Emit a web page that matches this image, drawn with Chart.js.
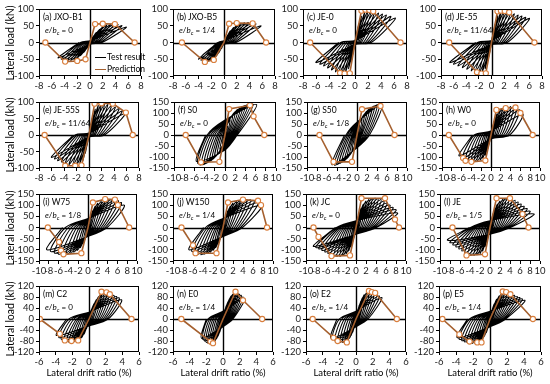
<!DOCTYPE html>
<html><head><meta charset="utf-8">
<script src="https://cdn.jsdelivr.net/npm/chart.js@4.4.1/dist/chart.umd.min.js"></script>
<style>
body{margin:0;background:#fff;width:550px;height:384px;overflow:hidden;position:relative;font-family:Lato,"Noto Sans",sans-serif;}
canvas{position:absolute;}
.t{position:absolute;white-space:nowrap;line-height:1;color:#000;font-size:8.5px;}
.e{position:absolute;white-space:nowrap;line-height:1;color:#000;font-size:8px;}
.ytitle{position:absolute;white-space:nowrap;font-size:10.5px;transform:translate(-50%,-50%) rotate(-90deg);color:#000;}
.xtitle{position:absolute;white-space:nowrap;font-size:9.5px;transform:translateX(-50%);color:#000;}
sub{font-size:6px;vertical-align:-2px;line-height:0;}
.leg{position:absolute;height:0;border-top:1.5px solid #000;width:11px;}
</style></head><body>
<script>
// ---------- labels ----------
const panelNames = ['(a) JXO-B1','(b) JXO-B5','(c) JE-0','(d) JE-55','(e) JE-55S','(f) S0','(g) S50','(h) W0','(i) W75','(j) W150','(k) JC','(l) JE','(m) C2','(n) E0','(o) E2','(p) E5'];
const eccentricity = ['0','1/4','0','11/64','11/64','0','1/8','0','1/8','1/4','0','1/5','0','1/4','1/4','1/4'];
// ---------- tick labels ----------
const xTicks8 = [-8,-6,-4,-2,0,2,4,6,8];
const xTicks10 = [-10,-8,-6,-4,-2,0,2,4,6,8,10];
const xTicks6 = [-6,-4,-2,0,2,4,6];
const yTicks100 = [-100,-50,0,50,100];
const yTicks150 = [-150,-100,-50,0,50,100,150];
const yTicks120 = [-120,-80,-40,0,40,80,120];
// ---------- test result: cycle peaks (drift %, load kN) ----------
const posDrift = [
 [0.5,1.0,1.5,2.0,2.6,3.2,3.8,4.4,5.0,5.7],
 [0.5,1.0,1.5,2.0,2.6,3.2,3.8,4.4,5.0,5.8],
 [0.3,0.6,1.0,1.5,2.0,2.5,3.0,3.6,4.2,4.8,5.5,6.2],
 [0.3,0.6,1.0,1.5,2.0,2.5,3.0,3.6,4.2,4.8,5.4,6.0],
 [0.3,0.6,1.0,1.5,2.0,2.5,3.0,3.6,4.2,4.8,5.3,5.8],
 [0.5,1.0,1.5,2.0,2.5,3.0,3.5,4.0,4.5,5.0,5.5,6.2],
 [0.5,1.0,1.5,2.0,2.5,3.0,3.5,4.0,4.5,5.0],
 [0.4,0.8,1.2,1.7,2.2,2.8,3.4,4.0,4.6,5.2,5.8,6.5],
 [0.5,1.0,1.5,2.0,2.7,3.4,4.1,4.8,5.5,6.2,6.8,7.4],
 [0.5,1.0,1.5,2.0,2.7,3.4,4.1,4.8,5.5,6.2,7.0,7.8],
 [0.5,1.0,1.5,2.0,2.6,3.2,3.8,4.4,5.0,5.6,6.2,6.8,7.4,8.0,8.3],
 [0.5,1.0,1.5,2.0,2.6,3.2,3.8,4.4,5.0,5.6,6.2,6.8,7.4,8.0,8.8],
 [0.3,0.6,0.9,1.2,1.5,1.8,2.1,2.4,2.7,3.0,3.3,3.6,3.9],
 [0.2,0.4,0.6,0.8,1.0,1.2,1.4,1.6,1.8,2.0,2.2,2.4,2.6],
 [0.2,0.4,0.6,0.8,1.0,1.3,1.6,1.9,2.2,2.5,2.8,3.1],
 [0.2,0.5,0.8,1.1,1.4,1.7,2.0,2.3,2.6,2.9,3.2,3.5,3.8,4.1]
];
const posLoad = [
 [18,30,40,47,52,54,55,54,51,46],
 [20,35,45,52,57,59,60,58,56,50],
 [30,55,78,90,95,95,92,88,85,82,78,73],
 [30,55,80,92,95,93,90,86,82,79,75,72],
 [30,55,78,90,95,95,93,90,85,80,73,66],
 [40,70,90,105,115,122,128,133,137,140,140,138],
 [45,75,95,108,118,125,131,136,140,138],
 [40,70,95,110,118,124,128,130,128,124,115,95],
 [45,75,95,108,116,120,123,125,124,120,112,100],
 [45,75,95,108,116,120,123,125,124,120,112,100],
 [50,85,105,118,125,130,132,130,125,118,110,100,90,80,65],
 [50,85,105,118,126,131,132,128,122,114,105,95,85,73,60],
 [35,55,70,82,90,94,95,93,90,86,82,77,70],
 [30,48,62,74,84,90,94,95,93,90,86,80,75],
 [30,50,65,78,88,96,100,98,94,90,84,78],
 [30,55,72,84,92,96,96,94,90,86,82,78,73,68]
];
const resPos = [
 [0.1,0.2,0.3,0.5,0.7,0.9,1.1,1.3,1.6,1.9],
 [0.1,0.2,0.3,0.5,0.7,0.9,1.1,1.3,1.6,1.9],
 [0.05,0.1,0.2,0.4,0.6,0.8,1.0,1.3,1.6,1.9,2.2,2.5],
 [0.05,0.1,0.2,0.4,0.6,0.8,1.0,1.3,1.6,1.9,2.2,2.5],
 [0.05,0.1,0.2,0.4,0.6,0.8,1.0,1.3,1.6,1.9,2.2,2.5],
 [0.2,0.4,0.6,0.8,1.0,1.2,1.4,1.6,1.8,2.0,2.2,2.4],
 [0.2,0.4,0.6,0.8,1.0,1.3,1.6,1.9,2.2,2.5],
 [0.1,0.3,0.5,0.8,1.1,1.4,1.8,2.2,2.6,3.0,3.4,3.8],
 [0.2,0.4,0.6,0.9,1.2,1.5,1.9,2.3,2.7,3.1,3.5,3.9],
 [0.2,0.4,0.6,0.9,1.2,1.5,1.9,2.3,2.7,3.1,3.5,3.9],
 [0.2,0.4,0.6,0.9,1.2,1.5,1.8,2.1,2.4,2.7,3.0,3.3,3.6,3.9,4.1],
 [0.2,0.4,0.6,0.9,1.2,1.5,1.8,2.1,2.4,2.7,3.0,3.3,3.6,3.9,4.1],
 [0.1,0.2,0.35,0.5,0.7,0.9,1.1,1.3,1.5,1.7,1.9,2.1,2.3],
 [0.05,0.1,0.2,0.3,0.4,0.5,0.6,0.7,0.8,0.9,1.0,1.1,1.2],
 [0.05,0.1,0.2,0.3,0.4,0.55,0.7,0.85,1.0,1.15,1.3,1.45],
 [0.05,0.15,0.25,0.35,0.5,0.65,0.8,0.95,1.1,1.25,1.4,1.55,1.7,1.85]
];
const negDrift = [
 [-0.5,-1.0,-1.5,-2.0,-2.5,-3.0,-3.5,-4.0,-4.5,-5.0],
 [-0.4,-0.8,-1.2,-1.6,-2.0,-2.4,-2.8,-3.2,-3.6,-4.0],
 [-0.3,-0.6,-1.0,-1.5,-2.0,-2.5,-3.0,-3.6,-4.2,-4.8,-5.4,-6.0],
 [-0.3,-0.6,-1.0,-1.5,-2.0,-2.6,-3.2,-3.9,-4.6,-5.3,-6.0,-6.6],
 [-0.3,-0.6,-1.0,-1.5,-2.0,-2.6,-3.2,-3.8,-4.4,-5.0,-5.5,-6.0],
 [-0.5,-1.0,-1.5,-2.0,-2.5,-3.0,-3.5,-4.0,-4.5,-5.0,-5.3,-5.6],
 [-0.5,-1.0,-1.5,-2.0,-2.5,-3.0,-3.5,-4.0,-4.5,-5.0],
 [-0.4,-0.8,-1.2,-1.7,-2.2,-2.8,-3.4,-4.0,-4.6,-5.2,-5.8,-6.5],
 [-0.5,-1.0,-1.6,-2.2,-2.9,-3.6,-4.4,-5.2,-6.0,-6.8,-7.6,-8.4],
 [-0.5,-1.0,-1.5,-2.0,-2.6,-3.2,-3.8,-4.4,-5.0,-5.6,-6.2,-6.8],
 [-0.5,-1.0,-1.5,-2.0,-2.6,-3.2,-3.8,-4.4,-5.0,-5.6,-6.2,-6.8,-7.4,-8.0,-8.5],
 [-0.5,-1.0,-1.5,-2.0,-2.6,-3.2,-3.8,-4.4,-5.0,-5.6,-6.2,-6.8,-7.4,-8.0,-8.5],
 [-0.3,-0.6,-0.9,-1.2,-1.5,-1.8,-2.1,-2.4,-2.7,-3.0,-3.3,-3.6,-3.9],
 [-0.2,-0.4,-0.6,-0.8,-1.0,-1.2,-1.4,-1.6,-1.8,-2.0,-2.2,-2.4,-2.6],
 [-0.2,-0.4,-0.6,-0.8,-1.0,-1.3,-1.6,-1.9,-2.2,-2.5,-2.8,-3.0],
 [-0.2,-0.45,-0.7,-0.95,-1.2,-1.5,-1.8,-2.1,-2.4,-2.7,-3.0,-3.3,-3.6,-3.85]
];
const negLoad = [
 [-18,-30,-40,-47,-52,-54,-54,-52,-50,-46],
 [-18,-30,-40,-47,-52,-55,-56,-55,-53,-50],
 [-30,-55,-78,-90,-95,-93,-88,-82,-76,-70,-65,-60],
 [-30,-55,-78,-90,-94,-90,-85,-80,-75,-70,-65,-60],
 [-30,-55,-78,-88,-93,-93,-90,-86,-82,-78,-73,-68],
 [-40,-65,-85,-100,-110,-118,-124,-130,-134,-135,-130,-120],
 [-45,-72,-92,-105,-115,-122,-128,-133,-137,-135],
 [-40,-70,-92,-105,-113,-118,-121,-122,-120,-115,-108,-95],
 [-45,-72,-90,-102,-110,-116,-120,-122,-120,-115,-108,-100],
 [-45,-72,-90,-102,-110,-116,-120,-122,-120,-115,-108,-100],
 [-50,-85,-105,-118,-125,-130,-130,-127,-122,-116,-110,-103,-96,-90,-85],
 [-50,-85,-105,-116,-122,-125,-124,-120,-113,-105,-96,-87,-78,-68,-57],
 [-35,-55,-68,-76,-80,-83,-85,-85,-83,-80,-75,-68,-60],
 [-30,-48,-62,-72,-80,-86,-89,-90,-88,-85,-80,-75,-70],
 [-30,-48,-60,-70,-77,-82,-85,-85,-83,-80,-75,-70],
 [-30,-50,-63,-72,-80,-85,-88,-89,-88,-86,-83,-79,-74,-68]
];
const resNeg = [
 [-0.1,-0.2,-0.3,-0.5,-0.7,-0.9,-1.1,-1.3,-1.5,-1.7],
 [-0.1,-0.2,-0.3,-0.4,-0.5,-0.6,-0.7,-0.8,-0.9,-1.0],
 [-0.05,-0.1,-0.2,-0.4,-0.6,-0.8,-1.0,-1.3,-1.6,-1.9,-2.2,-2.5],
 [-0.05,-0.1,-0.2,-0.4,-0.6,-0.8,-1.0,-1.3,-1.6,-1.9,-2.2,-2.5],
 [-0.05,-0.1,-0.2,-0.4,-0.6,-0.8,-1.0,-1.3,-1.6,-1.9,-2.2,-2.5],
 [-0.2,-0.4,-0.7,-1.0,-1.3,-1.6,-2.0,-2.4,-2.8,-3.2,-3.5,-3.8],
 [-0.2,-0.4,-0.6,-0.8,-1.0,-1.3,-1.6,-1.9,-2.2,-2.5],
 [-0.1,-0.3,-0.5,-0.8,-1.1,-1.4,-1.8,-2.2,-2.6,-3.0,-3.4,-3.8],
 [-0.2,-0.4,-0.7,-1.0,-1.4,-1.8,-2.3,-2.8,-3.4,-4.0,-4.6,-5.2],
 [-0.2,-0.4,-0.6,-0.9,-1.2,-1.5,-1.9,-2.3,-2.7,-3.1,-3.5,-3.9],
 [-0.2,-0.4,-0.6,-0.9,-1.2,-1.5,-1.8,-2.1,-2.4,-2.7,-3.0,-3.3,-3.6,-3.9,-4.1],
 [-0.2,-0.4,-0.6,-0.9,-1.2,-1.5,-1.8,-2.1,-2.4,-2.7,-3.0,-3.3,-3.6,-3.9,-4.1],
 [-0.1,-0.2,-0.35,-0.5,-0.7,-0.9,-1.1,-1.3,-1.5,-1.8,-2.1,-2.4,-2.7],
 [-0.05,-0.1,-0.2,-0.3,-0.45,-0.6,-0.8,-1.0,-1.2,-1.4,-1.6,-1.8,-2.0],
 [-0.05,-0.1,-0.2,-0.3,-0.45,-0.65,-0.9,-1.15,-1.4,-1.7,-2.0,-2.3],
 [-0.05,-0.15,-0.25,-0.4,-0.55,-0.75,-0.95,-1.15,-1.4,-1.65,-1.9,-2.15,-2.4,-2.65]
];
const pinchLoad = [
 [2,3,4,4,5,5,5,5,5,5],
 [2,3,4,4,5,5,5,5,5,5],
 [3,4,5,5,6,6,6,6,6,6,6,6],
 [3,4,5,5,6,6,6,6,6,6,6,6],
 [3,4,5,5,6,6,6,6,6,6,6,6],
 [15,25,32,38,42,46,50,54,58,62,65,68],
 [15,25,32,38,42,46,50,53,56,58],
 [5,8,10,12,14,15,16,17,18,18,18,18],
 [10,15,20,24,28,30,33,35,37,39,40,40],
 [10,15,20,24,28,30,33,35,37,39,40,40],
 [8,12,15,18,20,22,24,26,27,28,29,30,30,30,30],
 [8,12,15,18,20,22,24,26,27,28,29,30,30,30,30],
 [5,10,14,17,19,21,22,23,24,25,25,25,25],
 [5,8,12,15,18,20,22,24,25,26,27,28,28],
 [5,8,12,15,18,21,23,25,26,27,28,28],
 [5,9,13,16,19,21,23,25,26,27,28,28,28,28]
];
// ---------- prediction ----------
const predDrift = [
 [-7.0,-3.9,-2.0,-0.7,0,0.8,2.0,3.9,7.0],
 [-6.6,-3.0,-1.6,0,0.8,2.0,4.5,6.6],
 [-6.9,-2.3,-1.6,-0.8,0,1.0,1.6,2.2,2.8,7.0],
 [-6.7,-2.3,-1.6,-0.9,0,0.95,1.5,2.1,2.8,6.8],
 [-7.1,-3.8,-2.2,-1.2,0,0.9,2.0,3.8,5.9,7.0],
 [-7.7,-4.7,-1.1,0,0.8,4.9,5.6,7.7],
 [-7.5,-4.7,-1.0,0,1.0,4.7,7.5],
 [-8.6,-5.7,-5.2,-4.0,-1.15,0,1.1,3.0,5.0,6.0,8.5],
 [-8.2,-5.9,-5.5,-5.0,-1.35,0,1.0,3.5,5.5,6.1,8.4],
 [-8.3,-6.0,-5.5,-1.3,0,1.0,4.0,7.0,7.6,8.8],
 [-8.5,-7.5,-4.9,-1.2,0,1.1,5.8,7.8,8.6],
 [-7.5,-4.7,-1.0,0,1.3,4.0,6.5,7.7],
 [-5.9,-3.5,-2.9,-2.1,-1.3,0,1.5,2.1,2.5,5.1],
 [-5.0,-1.5,-1.2,0,1.5,2.4,4.7],
 [-5.2,-2.7,-2.2,-1.1,0,1.55,1.9,2.3,4.9],
 [-5.6,-3.6,-2.4,-1.5,-1.0,0,1.5,1.9,2.4,5.05]
];
const predLoad = [
 [0,-57,-55,-50,0,55,56,55,0],
 [0,-58,-52,0,56,58,57,0],
 [0,-91,-93,-92,0,95,98,97,93,0],
 [0,-89,-93,-92,0,93,95,94,90,0],
 [0,-93,-93,-92,0,95,96,95,68,0],
 [0,-124,-122,0,118,135,85,0],
 [0,-122,-122,0,117,132,0],
 [0,-105,-117,-122,-116,0,114,122,125,100,0],
 [0,-65,-103,-120,-115,0,112,127,125,101,0],
 [0,-80,-115,-115,0,112,125,120,100,0],
 [0,-42,-128,-125,0,131,131,36,0],
 [0,-125,-120,0,131,131,60,0],
 [0,-54,-78,-80,-78,0,99,97,90,0],
 [0,-82,-88,0,99,68,0],
 [0,-68,-80,-85,0,102,98,95,0],
 [0,-56,-82,-85,-85,0,100,98,90,0]
];

// ---------- layout (pixels) ----------
const rowTop=[9,102,194,286], rowBot=[76,168,261,352];
const colLeft=[[39,173,303,441],[39,174,307,442],[39,173,306,440],[39,173,306,439]];
const colRight=[[141,275,407,542],[139,276,407,540],[137,273,406,540],[139,273,406,541]];
const axisKind=[0,0,0,0,0,1,1,1,1,1,1,1,2,2,2,2];
const xTickSets=[xTicks8,xTicks10,xTicks6], yTickSets=[yTicks100,yTicks150,yTicks120];
const PADL=40,PADT=8,PADR=8,PADB=20;

const framePlugin={id:'frame',
 beforeDatasetsDraw(chart){const {ctx,chartArea:a,scales:{x,y}}=chart;ctx.save();ctx.strokeStyle='#000';ctx.lineWidth=1.4;
  const x0=Math.round(x.getPixelForValue(0))+0.5,y0=Math.round(y.getPixelForValue(0))+0.5;
  ctx.beginPath();ctx.moveTo(x0,a.top);ctx.lineTo(x0,a.bottom);ctx.moveTo(a.left,y0);ctx.lineTo(a.right,y0);ctx.stroke();ctx.restore();},
 afterDatasetsDraw(chart){const {ctx,chartArea:a}=chart;ctx.save();ctx.strokeStyle='#000';ctx.lineWidth=1;
  ctx.strokeRect(Math.round(a.left)+0.5,Math.round(a.top)+0.5,Math.round(a.right-a.left)-1,Math.round(a.bottom-a.top)-1);ctx.restore();}
};

function loopPoints(i){
  const pts=[{x:0,y:0}];
  for(let c=0;c<posDrift[i].length;c++){
    pts.push({x:0,y:pinchLoad[i][c]});
    pts.push({x:posDrift[i][c],y:posLoad[i][c]});
    pts.push({x:resPos[i][c],y:0});
    pts.push({x:0,y:-pinchLoad[i][c]});
    pts.push({x:negDrift[i][c],y:negLoad[i][c]});
    pts.push({x:resNeg[i][c],y:0});
  }
  return pts;
}

function addText(cls,html,left,top){const d=document.createElement('div');d.className=cls;d.innerHTML=html;d.style.left=left+'px';d.style.top=top+'px';document.body.appendChild(d);return d;}

const tickFont={family:'Lato',size:9.5};
for(let i=0;i<16;i++){
  const r=Math.floor(i/4),c=i%4;
  const L=colLeft[r][c],R=colRight[r][c],T=rowTop[r],B=rowBot[r];
  const cv=document.createElement('canvas');
  const W=R-L+PADL+PADR,H=B-T+PADT+PADB;
  cv.width=W;cv.height=H;cv.style.left=(L-PADL)+'px';cv.style.top=(T-PADT)+'px';cv.style.width=W+'px';cv.style.height=H+'px';
  document.body.appendChild(cv);
  const xt=xTickSets[axisKind[i]],yt=yTickSets[axisKind[i]];
  const pred=predDrift[i].map((v,k)=>({x:v,y:predLoad[i][k]}));
  new Chart(cv.getContext('2d'),{
    type:'scatter',
    data:{datasets:[
      {label:'Prediction',data:pred,showLine:true,borderColor:'#A5602F',borderWidth:1.6,
       pointRadius:ctx=>(ctx.raw&&ctx.raw.x===0&&ctx.raw.y===0)?0:2.6,pointBorderWidth:1.1,pointBorderColor:'#D97F3E',pointBackgroundColor:'#fff',tension:0},
      {label:'Test result',data:loopPoints(i),showLine:true,borderColor:'#000',borderWidth:1.05,pointRadius:0,tension:0.3}
    ]},
    options:{responsive:false,animation:false,devicePixelRatio:1,
      layout:{padding:{left:0,top:PADT,right:PADR,bottom:0}},
      plugins:{legend:{display:false},tooltip:{enabled:false}},
      scales:{
        x:{type:'linear',min:xt[0],max:xt[xt.length-1],
          afterBuildTicks:s=>{s.ticks=xt.map(v=>({value:v}));},
          afterFit:s=>{s.height=PADB;},
          ticks:{autoSkip:false,maxRotation:0,minRotation:0,font:tickFont,color:'#222',padding:1},
          grid:{drawOnChartArea:false,drawTicks:true,tickLength:3,color:'#000'},border:{display:false}},
        y:{type:'linear',min:yt[0],max:yt[yt.length-1],
          afterBuildTicks:s=>{s.ticks=yt.map(v=>({value:v}));},
          afterFit:s=>{s.width=PADL;},
          ticks:{autoSkip:false,font:tickFont,color:'#222',padding:2},
          grid:{drawOnChartArea:false,drawTicks:true,tickLength:3,color:'#000'},border:{display:false}}
      }},
    plugins:[framePlugin]
  });
  addText('t',panelNames[i],L+4,T+4);
  addText('e','<i>e</i>/<i>b</i><sub><i>c</i></sub> = '+eccentricity[i],L+6,T+17);
}
// y titles
for(let r=0;r<4;r++){addText('ytitle','Lateral load (kN)',10,(rowTop[r]+rowBot[r])/2);}
// x titles
for(let c=0;c<4;c++){addText('xtitle','Lateral drift ratio (%)',(colLeft[3][c]+colRight[3][c])/2,367);}
// legend in (a)
const lg1=document.createElement('div');lg1.className='leg';lg1.style.left='95px';lg1.style.top='57px';document.body.appendChild(lg1);
const lg2=document.createElement('div');lg2.className='leg';lg2.style.left='95px';lg2.style.top='69px';lg2.style.borderTopColor='#A5602F';document.body.appendChild(lg2);
addText('t','Test result',107,53);
addText('t','Prediction',107,65);
</script>
</body></html>
